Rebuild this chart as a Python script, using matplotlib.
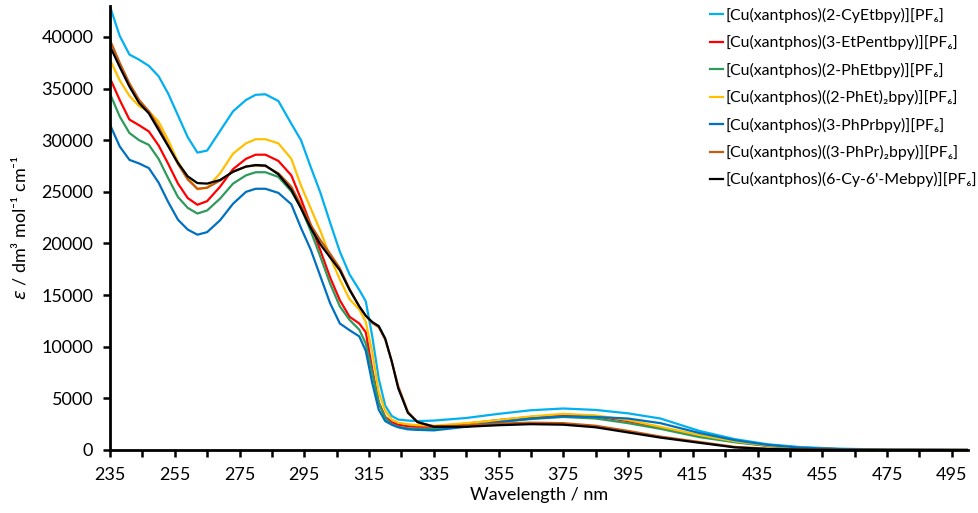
import numpy as np
from matplotlib import pyplot as plt

plt.rcParams['font.family'] = ['Lato', 'DejaVu Sans']
plt.rcParams['mathtext.fontset'] = 'dejavusans'

# wavelength grid (nm)
wl = [235, 238, 241, 244, 247, 250, 253, 256, 259, 262, 265, 269, 273, 277, 280,
      283, 287, 291, 294, 297, 300, 303, 306, 309, 312, 314, 316, 318, 320, 322,
      324, 327, 330, 335, 345, 355, 365, 375, 385, 395, 405, 417, 428, 438, 448,
      460, 475, 500]

cyetbpy = [42950, 40100, 38300, 37800, 37200, 36200, 34500, 32400, 30300, 28800,
           29000, 30900, 32800, 33900, 34400, 34450, 33800, 31600, 30000, 27400,
           24900, 22000, 19200, 17000, 15500, 14400, 11000, 6900, 4300, 3300,
           2950, 2850, 2800, 2850, 3100, 3500, 3850, 4020, 3880, 3550, 3050,
           1850, 1050, 560, 290, 130, 40, 0]
etpentbpy = [36000, 33900, 32000, 31450, 30850, 29500, 27700, 25800, 24400, 23750,
             24100, 25500, 27200, 28200, 28600, 28600, 28000, 26600, 24300, 21800,
             19300, 16700, 14500, 12900, 12250, 11400, 7800, 4600, 3200, 2700,
             2450, 2300, 2250, 2250, 2550, 2900, 3200, 3400, 3250, 2800, 2150,
             1350, 800, 420, 200, 80, 20, 0]
phetbpy = [34500, 32300, 30700, 30000, 29550, 28200, 26300, 24500, 23450, 22900,
           23200, 24350, 25800, 26600, 26900, 26900, 26450, 25050, 23450, 21200,
           18700, 16100, 13900, 12600, 11650, 10300, 7500, 4600, 3100, 2500,
           2250, 2100, 2050, 2050, 2350, 2700, 3000, 3200, 3050, 2600, 2050,
           1250, 750, 400, 190, 70, 15, 0]
phet2bpy = [37800, 35800, 34300, 33300, 32800, 31800, 30000, 27900, 26400, 25250,
            25400, 26800, 28700, 29700, 30100, 30100, 29700, 28200, 25600, 23400,
            21200, 18700, 16500, 14600, 13600, 12400, 9500, 5600, 3800, 2950,
            2650, 2500, 2400, 2350, 2600, 2900, 3250, 3500, 3350, 2900, 2250,
            1450, 850, 450, 220, 90, 20, 0]
phprbpy = [31500, 29400, 28100, 27750, 27300, 25900, 24000, 22300, 21350, 20850,
           21100, 22250, 23850, 25000, 25300, 25300, 24900, 23800, 21500, 19400,
           16800, 14200, 12250, 11600, 11000, 9600, 6500, 3900, 2800, 2450,
           2200, 2000, 1950, 1900, 2250, 2700, 3050, 3250, 3200, 3050, 2600,
           1650, 950, 500, 230, 90, 20, 0]
phpr2bpy = [39700, 37500, 35500, 33900, 32800, 31300, 29500, 27700, 26200, 25300,
            25400, 26100, 26950, 27450, 27550, 27500, 26800, 25500, 23700, 21800,
            20300, 19000, 17600, 15600, 13900, 13000, 12300, 11900, 10700, 8600,
            6200, 3700, 2700, 2300, 2350, 2550, 2650, 2600, 2350, 1850, 1300,
            780, 300, 130, 50, 15, 0, 0]
cymebpy = [39100, 37100, 35200, 33600, 32600, 31000, 29400, 27800, 26500, 25850,
           25800, 26150, 26950, 27450, 27600, 27550, 26700, 25200, 23400, 21500,
           19900, 18650, 17400, 15500, 13900, 13000, 12400, 12000, 10800, 8600,
           6000, 3600, 2700, 2250, 2250, 2400, 2500, 2450, 2200, 1700, 1200,
           700, 250, 100, 40, 10, 0, 0]

labels = ["[Cu(xantphos)(2-CyEtbpy)][PF\u2086]",
          "[Cu(xantphos)(3-EtPentbpy)][PF\u2086]",
          "[Cu(xantphos)(2-PhEtbpy)][PF\u2086]",
          "[Cu(xantphos)((2-PhEt)\u2082bpy)][PF\u2086]",
          "[Cu(xantphos)(3-PhPrbpy)][PF\u2086]",
          "[Cu(xantphos)((3-PhPr)\u2082bpy)][PF\u2086]",
          "[Cu(xantphos)(6-Cy-6'-Mebpy)][PF\u2086]"]
series = [cyetbpy, etpentbpy, phetbpy, phet2bpy, phprbpy, phpr2bpy, cymebpy]
colors = ["#00B0F0", "#FF0000", "#2E9A5C", "#FFC000", "#0070C0", "#C55A11", "#000000"]

fig = plt.figure(figsize=(9.79, 5.13), dpi=100)
ax = fig.add_axes([110/979, 1-450/513, 858/979, 444/513])

for y, c, lab in zip(series, colors, labels):
    ax.plot(wl, y, color=c, lw=1.6, label=lab, solid_joinstyle='round')
ax.lines[-1].set_zorder(3)

ax.set_xlim(235, 500)
ax.set_ylim(0, 43000)
ax.set_xticks(np.arange(235, 500, 20))
ax.set_xticks(np.arange(245, 500, 20), minor=True)
ax.set_yticks(np.arange(0, 40001, 5000))
ax.tick_params(axis='both', which='both', direction='out', length=5, width=1.8,
               labelsize=13, colors='black')
ax.tick_params(axis='x', pad=7)
ax.tick_params(axis='y', pad=7)
for s in ['top', 'right']:
    ax.spines[s].set_visible(False)
for s in ['left', 'bottom']:
    ax.spines[s].set_linewidth(2)

ax.set_xlabel("Wavelength / nm", fontsize=13, labelpad=3)
ax.set_ylabel(r"$\varepsilon$ / dm³ mol⁻¹ cm⁻¹", fontsize=13, labelpad=9)

fig.legend(loc='upper left', bbox_to_anchor=(702/979, 1.0), frameon=False,
           fontsize=11.4, handlelength=0.85, handletextpad=0.15, labelspacing=0.78,
           borderaxespad=0.1)

plt.savefig("out.png", dpi=100)
